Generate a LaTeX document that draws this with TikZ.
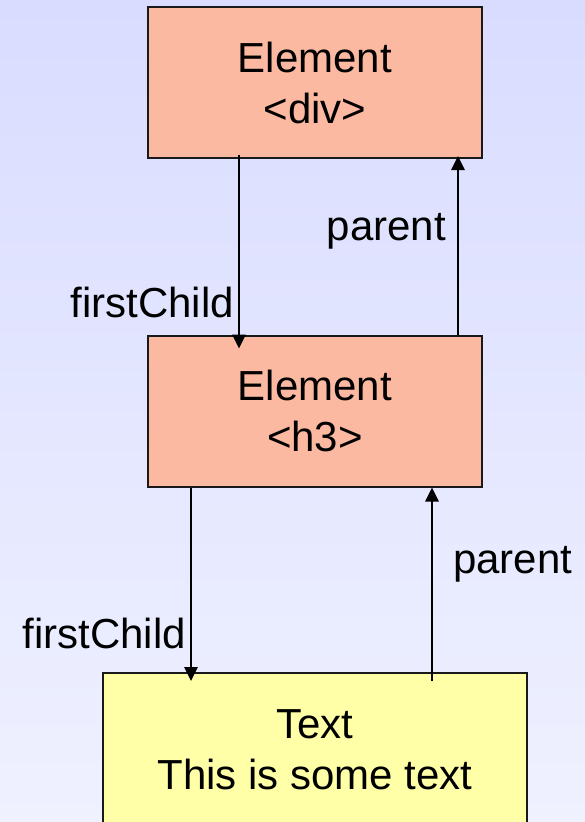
\documentclass[tikz,border=0pt]{standalone}
\usepackage{fontspec}
\setmainfont{Liberation Sans}
\usetikzlibrary{positioning, arrows.meta}

\definecolor{bgtop}{RGB}{217,220,255}
\definecolor{bgbottom}{RGB}{239,241,255}
\definecolor{salmon}{RGB}{251,185,161}
\definecolor{paleyellow}{RGB}{255,255,168}

\begin{document}
\begin{tikzpicture}[x=1pt, y=-1pt,
            element/.style = {rectangle, draw=black!90, line width=2pt, fill=salmon, minimum width=334pt, minimum height=151pt, align=center, font=\fontsize{42}{51}\selectfont},
            textbox/.style = {element, fill=paleyellow, minimum width=424pt, minimum height=154pt},
            link/.style = {draw, line width=2.6pt, -{Triangle[width=13pt, length=14pt]}},
            lbl/.style = {inner sep=0pt, font=\fontsize{42}{51}\selectfont},
        ]
            % Page with shaded background
            \useasboundingbox (0,0) rectangle (585,822);
            \clip (0,0) rectangle (585,822);
            \shade[top color=bgtop, bottom color=bgbottom] (0,0) rectangle (585,822);

            % Boxes stacked in a column
            \node[element] (div) at (315,82.5) {Element\\<div>};
            \node[element] (h3) at (315,411) {Element\\<h3>};
            \node[textbox] (text) at (315,750) {Text\\This is some text};

            % div <-> h3
            \draw[link] ([xshift=-76pt, yshift=4pt]div.south) -- ([xshift=-76pt, yshift=-14pt]h3.north);
            \draw[link] ([xshift=143pt]h3.north) -- ([xshift=143pt, yshift=3pt]div.south);
            % h3 <-> text
            \draw[link] ([xshift=-124pt]h3.south) -- ([xshift=-124pt, yshift=-9pt]text.north);
            \draw[link] ([xshift=117pt, yshift=-9pt]text.north) -- ([xshift=117pt]h3.south);

            % Link labels
            \node[lbl, anchor=base east] (parent1) at (446,240) {parent};
            \node[lbl, anchor=base east] (child1) at (234,317) {firstChild};
            \node[lbl, anchor=base west] (parent2) at (453,573) {parent};
            \node[lbl, anchor=base east] (child2) at (186,648) {firstChild};
        \end{tikzpicture}
\end{document}
